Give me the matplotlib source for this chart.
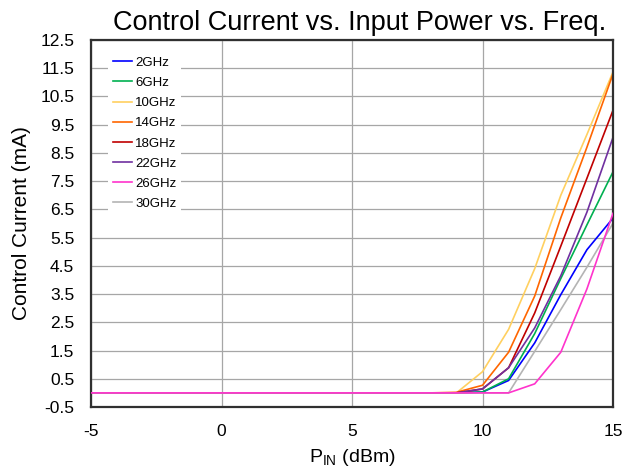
import matplotlib

matplotlib.use("Agg")
import matplotlib.pyplot as plt

plt.rcParams["font.family"] = ["Liberation Sans", "DejaVu Sans"]
plt.rcParams["axes.unicode_minus"] = False

# 输入功率 (dBm)
pin = list(range(-5, 16))
flat = [0.0] * 14  # -5 .. 8 dBm

freq_labels = ["2GHz", "6GHz", "10GHz", "14GHz", "18GHz", "22GHz", "26GHz", "30GHz"]
colors = ["#0000ff", "#00b050", "#ffd060", "#ff6600", "#c00000", "#7030a0", "#ff33cc", "#b4b4b4"]

# 9 .. 15 dBm
i_2g = [0.0, 0.03, 0.44, 1.77, 3.48, 5.07, 6.19]
i_6g = [0.0, 0.03, 0.50, 2.10, 4.05, 5.95, 7.83]
i_10g = [0.0, 0.75, 2.25, 4.40, 7.00, 9.15, 11.37]
i_14g = [0.02, 0.27, 1.44, 3.43, 6.20, 8.70, 11.30]
i_18g = [0.0, 0.14, 0.89, 2.83, 5.20, 7.60, 10.01]
i_22g = [0.0, 0.14, 0.89, 2.30, 4.15, 6.40, 9.05]
i_26g = [0.0, 0.0, 0.0, 0.32, 1.44, 3.68, 6.36]
i_30g = [0.0, 0.0, 0.0, 1.47, 2.95, 4.45, 6.01]

series = [i_2g, i_6g, i_10g, i_14g, i_18g, i_22g, i_26g, i_30g]

fig = plt.figure(figsize=(6.22, 4.73), dpi=100)
ax = fig.add_axes([91 / 622, 1 - 407 / 473, 522 / 622, 367 / 473])

for lab, c, s in zip(freq_labels, colors, series):
    z = 3 if lab == "26GHz" else 2
    ax.plot(pin, flat + s, color=c, lw=1.2, label=lab, zorder=z)

ax.set_xlim(-5, 15)
ax.set_ylim(-0.5, 12.5)
ax.set_xticks([-5, 0, 5, 10, 15])
yt = [-0.5 + k for k in range(14)]
ax.set_yticks(yt)
ax.set_yticklabels([f"{v:.1f}" for v in yt])
ax.tick_params(length=0, labelsize=12.5)
ax.tick_params(axis="y", pad=12)
ax.tick_params(axis="x", pad=12)
ax.grid(color="#a6a6a6", lw=0.9)
ax.set_axisbelow(True)
for sp in ax.spines.values():
    sp.set_color("#303030")
    sp.set_linewidth(1.6)

ax.set_title("Control Current vs. Input Power vs. Freq.", fontsize=19.5, pad=7, x=0.515)
ax.set_xlabel("P$_{\\mathregular{IN}}$ (dBm)", fontsize=14, labelpad=6)
ax.set_ylabel("Control Current (mA)", fontsize=15, labelpad=7)

leg = ax.legend(loc="upper left", bbox_to_anchor=(0.02, 0.985), frameon=True,
                fontsize=9.5, handlelength=1.5, handletextpad=0.2,
                labelspacing=0.6, borderpad=0.35, fancybox=False)
leg.get_frame().set_edgecolor("none")
leg.get_frame().set_facecolor("white")
leg.get_frame().set_alpha(1)

fig.savefig("out.png", dpi=100)
